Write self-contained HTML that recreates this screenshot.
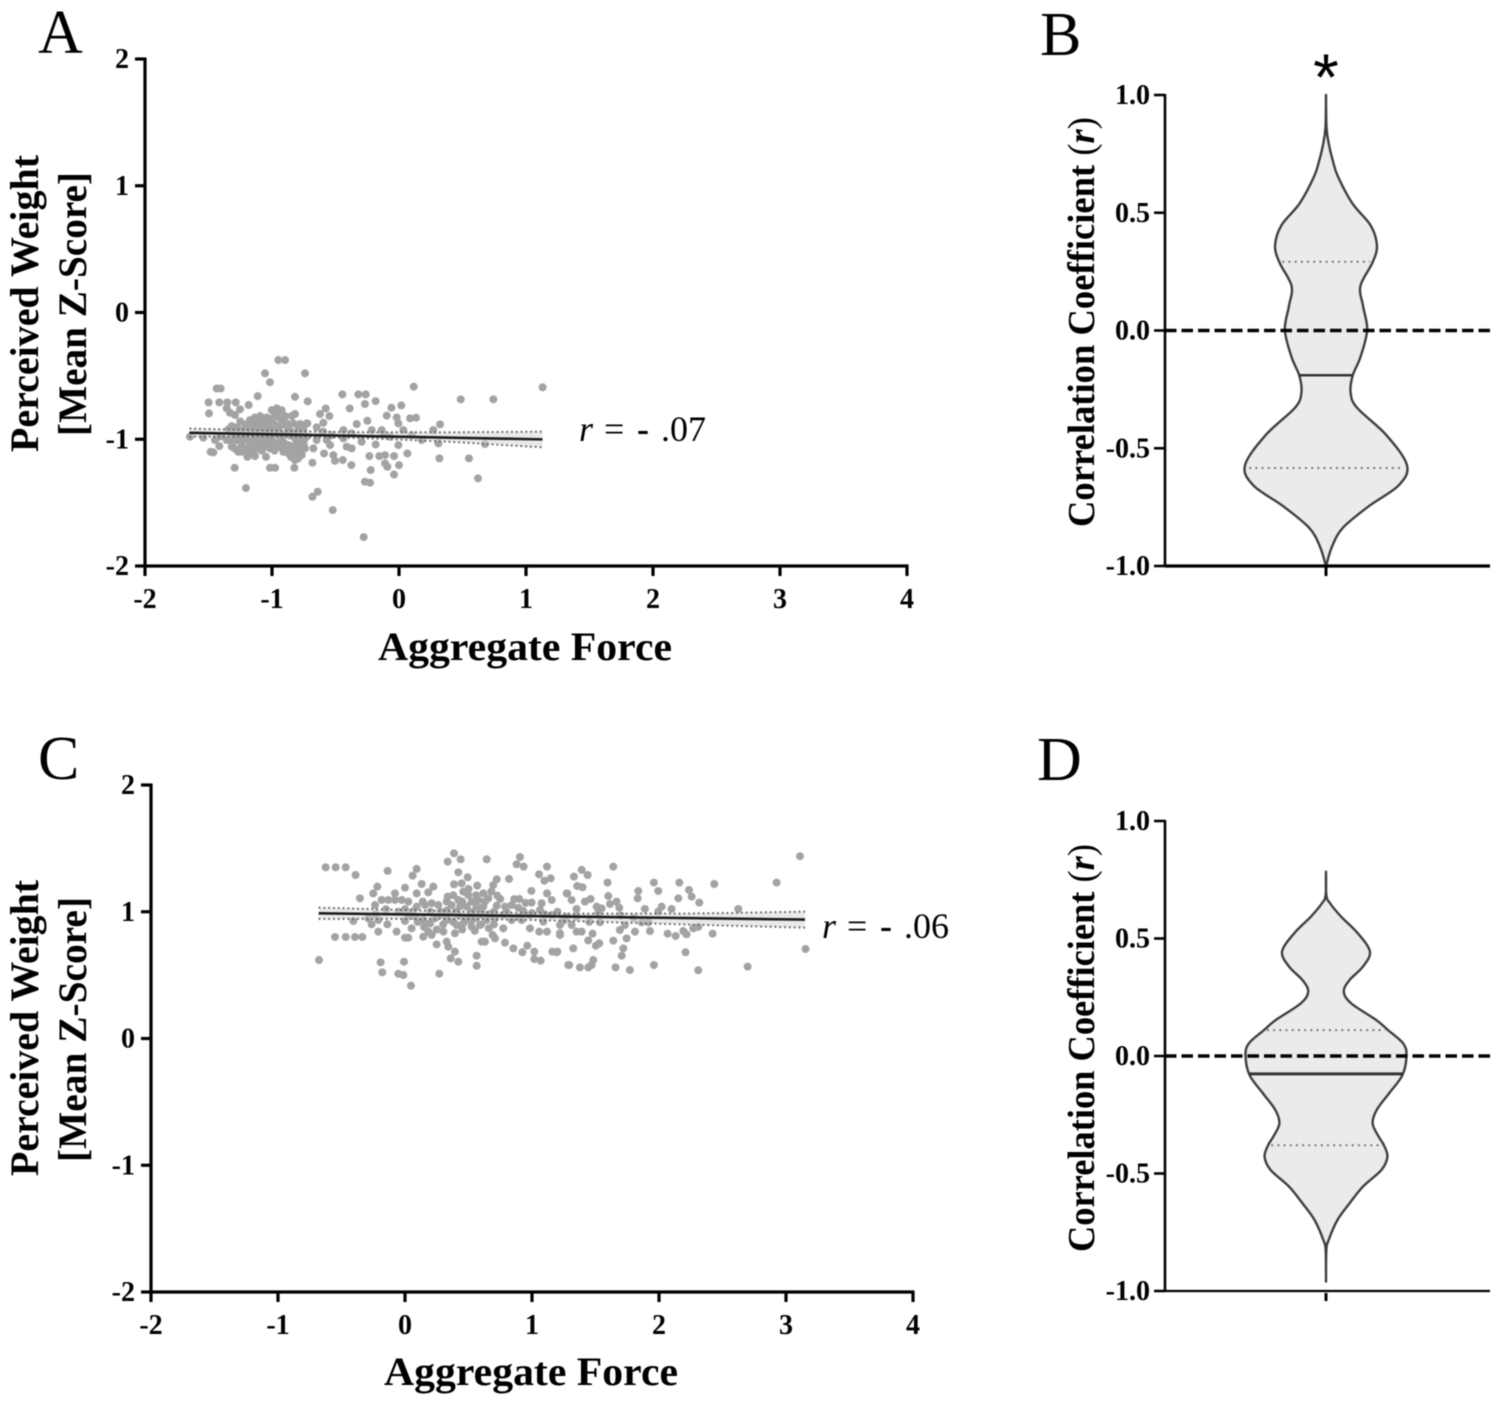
<!DOCTYPE html>
<html lang="en">
<head>
<meta charset="utf-8">
<title>Perceived weight and aggregate force correlations</title>
<style>
html,body{margin:0;padding:0;background:#fff;}
svg{display:block;filter:blur(.5px);}
text{font-family:"Liberation Serif",serif;fill:#000;}
.title{font-weight:bold;font-size:40px;}
.vtitle{font-weight:bold;font-size:38px;}
.tick{font-weight:bold;font-size:28px;}
.letter{font-size:62px;}
.rval{font-size:36px;}
</style>
</head>
<body>
<svg id="figure" width="1498" height="1406" viewBox="0 0 1498 1406" xmlns="http://www.w3.org/2000/svg">
  <g id="panel-a"></g>
  <g id="panel-b"></g>
  <g id="panel-c"></g>
  <g id="panel-d"></g>

  <text class="letter" x="38" y="53">A</text>
  <text class="letter" x="1040" y="55">B</text>
  <text class="letter" x="38" y="779">C</text>
  <text class="letter" x="1037" y="780">D</text>

  <text class="title" transform="translate(38,452) rotate(-90)" textLength="297" lengthAdjust="spacingAndGlyphs">Perceived Weight</text>
  <text class="title" transform="translate(86,436) rotate(-90)" textLength="264" lengthAdjust="spacingAndGlyphs">[Mean Z-Score]</text>
  <text class="title" x="378" y="660" textLength="294" lengthAdjust="spacingAndGlyphs">Aggregate Force</text>
  <text class="rval" y="441"><tspan x="579" font-style="italic">r</tspan><tspan x="604">=</tspan><tspan x="637" font-weight="bold">-</tspan><tspan x="661">.07</tspan></text>

  <text class="vtitle" transform="translate(1094,527) rotate(-90)" textLength="410" lengthAdjust="spacingAndGlyphs">Correlation Coefficient <tspan font-weight="normal">(</tspan><tspan font-style="italic">r</tspan><tspan font-weight="normal">)</tspan></text>
  <text x="1326" y="100" text-anchor="middle" style="font-family:'Liberation Sans',sans-serif;font-size:66px">*</text>

  <text class="title" transform="translate(38,1176) rotate(-90)" textLength="296" lengthAdjust="spacingAndGlyphs">Perceived Weight</text>
  <text class="title" transform="translate(86,1162) rotate(-90)" textLength="265" lengthAdjust="spacingAndGlyphs">[Mean Z-Score]</text>
  <text class="title" x="384" y="1385" textLength="294" lengthAdjust="spacingAndGlyphs">Aggregate Force</text>
  <text class="rval" y="938"><tspan x="822" font-style="italic">r</tspan><tspan x="847">=</tspan><tspan x="880" font-weight="bold">-</tspan><tspan x="904">.06</tspan></text>

  <text class="vtitle" transform="translate(1094,1252) rotate(-90)" textLength="408" lengthAdjust="spacingAndGlyphs">Correlation Coefficient <tspan font-weight="normal">(</tspan><tspan font-style="italic">r</tspan><tspan font-weight="normal">)</tspan></text>
</svg>

<script>
// ---------- Chart data ----------
const scatterTicksX = [-2, -1, 0, 1, 2, 3, 4];
const scatterTicksY = [-2, -1, 0, 1, 2];
const violinTicks = ['-1.0', '-0.5', '0.0', '0.5', '1.0'];

// Panel A: [aggregate force, perceived weight]
const pointsA = [
[-.95,-.375],[-.897,-.375],[-1.055,-.48],[-.74,-.48],[-1.016,-.55],[-1.436,-.6],[-1.404,-.6],[.116,-.585],[1.131,-.59],
[-1.113,-.66],[-.819,-.665],[-.446,-.646],[-.32,-.646],[-.262,-.646],[.486,-.685],[.743,-.685],[-1.499,-.709],[-1.415,-.709],
[-1.352,-.709],[-1.286,-.709],[-1.184,-.73],[-.719,-.701],[-.268,-.722],[-.184,-.699],[.018,-.733],[-.388,-.757],[-.06,-.751],
[-1.496,-.796],[-1.357,-.756],[-1.331,-.791],[-1.291,-.809],[-1.252,-.764],
[-.622,-.801],[-.577,-.757],[-.548,-.817],[-.596,-.87],[-.648,-.906],[-.727,-.875],[-.438,-.928],[-.373,-.954],[-.333,-.88],
[-.249,-.854],[-.215,-.928],[-.136,-.928],[-.097,-.814],[-.018,-.828],[-.005,-.875],[.087,-.835],[.134,-.83],[.034,-.928],
[.323,-.883],[.27,-.928],[.179,-1.006],[.31,-1.033],[-.005,-1.046],[-.184,-1.041],[.066,-1.112],[.318,-1.151],[.551,-1.151],
[.677,-1.038],[.622,-1.309],[-.233,-1.133],[-.155,-1.133],[-.11,-1.125],[-.039,-1.133],[-.11,-1.191],[-.092,-1.217],[0,-1.204],
[-.223,-1.243],[-.039,-1.278],[-.268,-1.335],[-.228,-1.343],[-.375,-1.204],[-.443,-1.164],[-.504,-1.17],[-.517,-1.125],
[-.59,-1.112],[-.682,-1.185],[-.824,-1.225],[-1.016,-1.225],[-.976,-1.225],[-1.294,-1.225],[-1.205,-1.385],[-.64,-1.414],
[-.682,-1.454],[-.522,-1.559],[-.278,-1.772],[-1.483,-1.099],[-1.462,-1.104],[-1.415,-1.054],[-1.541,-.988],[-1.646,-.98],
[-1.317,-1.059],[-1.278,-1.085],[-1.239,-1.099],[-1.194,-1.138],[-1.134,-1.133],[-1.047,-1.138],
[-.438,-.993],[-.412,-1.059],[-.373,-1.072],[-.569,-1.006],[-.674,-1.072],[-.543,-1.046],[-.648,-1.006],[-.596,-.941],
[-.53,-.967],[-.294,-1.02],[-.123,-.967],[.1,-.967],[-.071,-.98],
[-1.317,-.896],[-1.344,-.922],[-1.278,-.906],[-1.212,-.906],[-1.173,-.849],[-1.134,-.828],[-1.094,-.817],[-1.115,-.875],
[-1.068,-.849],[-1.042,-.828],[-1.002,-.77],[-.963,-.756],[-.924,-.77],[-.897,-.817],[-.937,-.835],[-.989,-.828],[-1.029,-.875],
[-1.081,-.906],[-1.147,-.914],[-1.186,-.928],[-.976,-.888],[-.924,-.888],[-.884,-.875],[-.845,-.817],[-.819,-.801],[-.832,-.875],
[-.793,-.906],[-.753,-.922],[-.722,-.875],[-.871,-.922],[-.95,-.928],[-1.016,-.928],[-1.055,-.928],[-1.107,-.933],[-1.252,-.933],[-1.304,-.949],
[-1.357,-1.006],[-1.317,-1.02],[-1.278,-1.006],[-1.239,-1.02],[-1.304,-1.064],[-1.265,-1.099],[-1.212,-1.072],[-1.173,-1.033],
[-1.147,-1.006],[-1.115,-1.046],[-1.068,-1.059],[-1.029,-1.02],[-.989,-1.038],[-.95,-1.059],[-.911,-1.02],[-.871,-1.046],
[-.832,-1.059],[-.793,-1.046],[-.766,-1.006],[-.74,-.993],[-.766,-1.125],[-.793,-1.151],[-.827,-1.099],[-.871,-1.112],
[-.911,-1.099],[-.963,-1.033],[-1.016,-1.072],[-1.094,-1.006],[-1.16,-1.085],[-1.186,-1.125],[-1.409,-.98],[-1.449,-1.006],
[-.727,-.98],[-.819,-1.164],[-.766,-1.085],[-.74,-1.072],[-1.226,-.98],[-1.068,-.98],[-.937,-.98],[-.832,-.98],
[-1.25,-.86],[-1.2,-.88],[-1.15,-.87],[-1.1,-.85],[-1.05,-.88],[-1,-.86],[-.96,-.81],[-.92,-.84],[-.88,-.9],[-.85,-.94],[-.8,-.95],[-.78,-.88],[-.76,-.96],
[-1.3,-.97],[-1.25,-.95],[-1.19,-.95],[-1.14,-.96],[-1.09,-.95],[-1.03,-.96],[-.98,-.95],[-.9,-.96],[-.86,-.97],[-.79,-.98],
[-1.24,-1.05],[-1.2,-1],[-1.13,-1.08],[-1.1,-1.03],[-1.06,-1.01],[-1,-1],[-1.03,-1.06],[-.98,-1.09],[-.93,-1.06],[-.9,-1.09],[-.85,-1.08],[-.81,-1.02],
[-.79,-1.1],[-.85,-1.14],[-.75,-1.04],[-1.08,-1.09],[-1.19,-1.07]
];
const fitXA = [-1.65, 1.13];
const fitYA = [-.949, -1.001];
const ciXA = [-1.65, -.95, -.3, .4, 1.13];
const ciUpperA = [-.915, -.935, -.945, -.945, -.94];
const ciLowerA = [-.98, -.975, -.99, -1.02, -1.064];

// Panel C: [aggregate force, perceived weight]
const pointsC = [
[-.677,.619],[-.625,1.351],[-.546,1.351],[-.467,1.351],[-.389,1.29],[-.137,1.322],[.092,1.338],[.06,1.285],[.336,1.395],[.386,1.461],
[.438,1.414],[.643,1.414],[.905,1.432],[.879,1.374],[.934,1.356],[1.118,1.356],[1.055,1.295],[1.147,1.264],[1.097,1.245],[.42,1.311],
[.493,1.272],[.819,1.259],[.722,1.256],[.695,1.211],[.386,1.217],[.446,1.224],[.569,1.206],[.131,1.219],[.092,1.145],[.223,1.198],
[.183,1.153],[0,1.19],[-.218,1.198],[-.25,1.145],[-.355,1.106],[-.079,1.145],[.995,1.164],[.9,1.101],[1.118,1.145],[1.155,1.093],
[.997,1.072],[1.076,1.067],[1.273,1.145],[.727,1.127],[.336,1.119],
[-.407,.927],[-.551,.801],[-.467,.801],[-.394,.801],[-.336,.801],[-.21,.843],[-.066,.843],[.052,.869],[0,.795],[.026,.795],[.144,.803],
[-.192,.601],[-.179,.522],[-.008,.606],[-.053,.511],[-.013,.501],[.047,.417],[.27,.511],[.249,.743],[.184,.843],[.21,.817],[.302,.843],
[.328,.764],[.341,.724],[.393,.685],[.36,.632],[.42,.606],[.564,.653],[.564,.574],[.603,.764],[.63,.764],[.69,.817],[.708,.79],[.787,.756],
[.853,.711],[.924,.68],[.963,.732],[1.018,.685],[1.018,.627],[1.068,.614],[1.16,.685],[1.194,.68],[1.057,.843],[1.118,.843],[1.22,.83],
[1.286,.58],[.774,.869],[.984,.869],[.393,.83],
[3.11,1.438],[2.926,1.23],[1.64,1.356],[1.391,1.33],[1.438,1.29],[1.33,1.277],[1.356,1.203],[1.398,1.193],[1.595,1.23],[1.96,1.23],
[2.16,1.23],[2.435,1.219],[1.994,1.164],[1.837,1.164],[1.832,1.106],[2.236,1.172],[2.257,1.119],[2.152,1.106],[2.317,1.072],[1.601,1.124],
[1.278,1.145],[1.312,1.093],[1.417,1.08],[1.461,1.101],[1.666,1.08],[1.614,1.061],[1.687,1.032],[1.351,1.022],[1.509,1.04],[1.548,1.027],
[1.522,.988],[1.889,1.022],[2.021,1.04],[2.099,1.022],[1.994,1.001],[2.624,1.022],[1.535,.917],[1.312,.895],[1.351,.843],[1.391,.843],
[1.732,.895],[1.692,.856],[1.477,.827],[1.443,.774],[1.53,.751],[1.503,.732],[1.64,.772],[1.745,.79],[1.811,.843],[1.929,.848],[2.068,.827],
[2.131,.809],[2.191,.848],[2.217,.822],[2.27,.869],[2.309,.88],[2.422,.827],[1.863,.917],[1.916,.917],[1.719,.711],[1.706,.653],[1.325,.711],
[1.22,.817],[1.482,.619],[1.469,.58],[1.293,.58],[1.377,.561],[1.443,.561],[1.658,.561],[1.771,.54],[1.96,.58],[2.209,.68],[2.309,.538],
[2.698,.567],[3.154,.706],[1.2,.685],
[-.236,1.053],[-.184,1.093],[-.131,1.093],[-.079,1.093],[-.026,1.093],[.026,1.08],[.092,1.04],[.157,1.053],[.21,1.067],[.262,1.053],[.328,1.08],
[.367,1.053],[.42,1.093],[.459,1.159],[.498,1.132],[.525,1.08],[.577,1.093],[.617,1.145],[.656,1.106],[.433,1.04],[.486,1.04],[.564,1.04],
[.617,1.04],[.722,1.048],[.787,1.04],[.84,1.053],[.892,1.032],[.932,1.006],[1.063,1.014],[1.155,.974],
[-.289,.948],[-.263,.901],[-.21,.935],[-.139,.901],[0,.927],[.079,.961],[.144,.935],[.197,.908],[.236,.948],[.328,.935],[.407,.895],[.459,.908],
[.525,.882],[.59,.895],[.643,.935],[.708,.948],[.84,.935],[.919,.935],[1.089,.922],[1.22,.895],[1.273,.961],
[.42,.974],[.512,.974],[.59,.974],[.275,.974],[.774,.974],[.984,.974],
[0,1.02],[.06,1],[.14,1.08],[.2,1],[.28,1],[.33,1.01],[.38,1.13],[.4,1],[.45,1.08],[.5,1.18],[.53,1],[.56,1.13],[.6,1],[.63,1.08],[.66,.98],[.7,1],
[.68,1.16],[.75,1.1],[.8,1],[.47,.94],[.52,.92],[.56,.95],[.6,.9],[.38,.92],[.3,.9],[.25,.86],[.15,.88],[.1,.92],[.03,.97],[-.05,1],[-.15,1.02],[-.23,.98],
[.7,.9],[.66,.87],[.45,.86],[.55,.85],[.34,.98],[.9,.96],[1,.99],[1.2,1],[1.1,.98],[1.35,.96],[1.45,.92],[1.7,.97],[1.8,.95],[1.25,.93],[.86,1.1],[.95,1.07]
];
const fitXC = [-.68, 3.15];
const fitYC = [.988, .938];
const ciXC = [-.68, .5, 1.2, 2.2, 3.15];
const ciUpperC = [1.033, 1.0, .985, .985, 1.001];
const ciLowerC = [.943, .945, .93, .9, .874];

// Panel B violin: correlation level and relative density
const levelsB = [1,.864,.792,.72,.655,.54,.447,.361,.289,.189,.103,.002,-.113,-.192,-.264,-.328,-.443,-.572,-.658,-.745,-.838,-.917,-.996,-1];
const densityB = [0,.006,.035,.085,.146,.325,.55,.629,.575,.425,.458,.508,.425,.329,.304,.383,.742,1,.896,.533,.208,.075,.004,0];
const medianB = -.19;
const q1B = -.584;
const q3B = .292;

// Panel D violin
const levelsD = [.784,.685,.65,.593,.522,.444,.38,.323,.274,.224,.153,.11,.054,.003,-.081,-.159,-.23,-.287,-.343,-.378,-.428,-.485,-.556,-.627,-.698,-.783,-.827,-.96];
const densityD = [0,.004,.05,.188,.396,.546,.458,.292,.221,.313,.625,.771,.958,1,.95,.783,.629,.579,.654,.717,.763,.688,.458,.292,.142,.033,.004,0];
const medianD = -.076;
const q1D = -.38;
const q3D = .11;

// ---------- Helpers ----------
const NS = 'http://www.w3.org/2000/svg';
function mk(parent, tag, attrs, txt) {
  const el = document.createElementNS(NS, tag);
  for (const k in attrs) el.setAttribute(k, attrs[k]);
  if (txt !== undefined) el.textContent = txt;
  parent.appendChild(el);
  return el;
}
function linearScale(d0, d1, r0, r1) {
  return function (v) { return r0 + (v - d0) * (r1 - r0) / (d1 - d0); };
}
function interp(xs, ys, v) {
  const dir = xs[xs.length - 1] > xs[0] ? 1 : -1;
  for (let i = 0; i < xs.length - 1; i++) {
    if ((v - xs[i]) * dir >= 0 && (v - xs[i + 1]) * dir <= 0) {
      return ys[i] + (ys[i + 1] - ys[i]) * (v - xs[i]) / (xs[i + 1] - xs[i]);
    }
  }
  return ys[ys.length - 1];
}
function smoothPath(pts, start) {
  let d = start ? 'M' + pts[0][0] + ' ' + pts[0][1] : 'L' + pts[0][0] + ' ' + pts[0][1];
  for (let i = 0; i < pts.length - 1; i++) {
    const p0 = pts[Math.max(0, i - 1)], p1 = pts[i], p2 = pts[i + 1], p3 = pts[Math.min(pts.length - 1, i + 2)];
    const c1x = p1[0] + (p2[0] - p0[0]) / 6, c1y = p1[1] + (p2[1] - p0[1]) / 6;
    const c2x = p2[0] - (p3[0] - p1[0]) / 6, c2y = p2[1] - (p3[1] - p1[1]) / 6;
    d += 'C' + c1x + ' ' + c1y + ' ' + c2x + ' ' + c2y + ' ' + p2[0] + ' ' + p2[1];
  }
  return d;
}

// ---------- Scatter panels ----------
function drawScatter(g, box, points, fitX, fitY, ciX, ciUpper, ciLower) {
  const x = linearScale(-2, 4, box.left, box.right);
  const y = linearScale(-2, 2, box.bottom, box.top);

  const pointLayer = mk(g, 'g', {});
  
  
  points.forEach(function (p) {
    const c = mk(pointLayer, 'circle', { cx: x(p[0]), cy: y(p[1]), r: 4, fill: '#a3a3a3' });
    
    
  });

  const upperPts = ciX.map(function (v, i) { return x(v) + ',' + y(ciUpper[i]); });
  const lowerPts = ciX.map(function (v, i) { return x(v) + ',' + y(ciLower[i]); });
  const band = mk(g, 'polygon', { points: upperPts.concat(lowerPts.slice().reverse()).join(' '), fill: '#d4d4d4', 'fill-opacity': .5 });
  
  
  [upperPts, lowerPts].forEach(function (pts) {
    const l = mk(g, 'polyline', { points: pts.join(' '), fill: 'none', stroke: '#666', 'stroke-width': 2, 'stroke-dasharray': '1.8 3' });
    
    
  });
  const fit = mk(g, 'line', { x1: x(fitX[0]), y1: y(fitY[0]), x2: x(fitX[1]), y2: y(fitY[1]), stroke: '#1c1c1c', 'stroke-width': 2.6 });
  
  

  const yAxis = mk(g, 'line', { x1: box.left, y1: box.top - 1.5, x2: box.left, y2: box.bottom + 1.5, stroke: '#000', 'stroke-width': 3.2 });
  
  
  const xAxis = mk(g, 'line', { x1: box.left - 1.5, y1: box.bottom, x2: box.right + 1.5, y2: box.bottom, stroke: '#000', 'stroke-width': 3.2 });
  
  

  scatterTicksY.forEach(function (v) {
    const t = mk(g, 'line', { x1: box.left - 10, y1: y(v), x2: box.left, y2: y(v), stroke: '#000', 'stroke-width': 3.2 });
    
    
    const l = mk(g, 'text', { class: 'tick', x: box.left - 16, y: y(v) + 9, 'text-anchor': 'end' }, String(v));
    
    
  });
  scatterTicksX.forEach(function (v) {
    const t = mk(g, 'line', { x1: x(v), y1: box.bottom, x2: x(v), y2: box.bottom + 10, stroke: '#000', 'stroke-width': 3.2 });
    
    
    const l = mk(g, 'text', { class: 'tick', x: x(v), y: box.bottom + 42, 'text-anchor': 'middle' }, String(v));
    
    
  });
}

// ---------- Violin panels ----------
function drawViolin(g, box, levels, density, median, q1, q3, axisWidth, tickGap, medianWidth) {
  const y = linearScale(-1, 1, box.bottom, box.top);
  const cx = box.center, w = box.halfWidth;
  const hw = function (v) { return interp(levels, density, v) * w; };
  const right = levels.map(function (r, i) { return [cx + density[i] * w, y(r)]; });
  const left = levels.map(function (r, i) { return [cx - density[i] * w, y(r)]; }).reverse();
  const path = smoothPath(right, true) + smoothPath(left, false) + 'Z';
  const v = mk(g, 'path', { d: path, fill: '#ebebeb', stroke: '#3f3f3f', 'stroke-width': 2.4, 'stroke-linejoin': 'round' });
  
  

  [q1, q3].forEach(function (q) {
    const l = mk(g, 'line', { x1: cx - hw(q) + 3, y1: y(q), x2: cx + hw(q) - 3, y2: y(q), stroke: '#777', 'stroke-width': 2, 'stroke-dasharray': '2 4.2' });
    
    
  });
  const m = mk(g, 'line', { x1: cx - hw(median), y1: y(median), x2: cx + hw(median), y2: y(median), stroke: '#333', 'stroke-width': medianWidth });
  
  

  const dash = mk(g, 'line', { x1: box.left, y1: y(0), x2: box.right, y2: y(0), stroke: '#000', 'stroke-width': 3.4, 'stroke-dasharray': '11.5 5' });
  
  

  const yAxis = mk(g, 'line', { x1: box.left, y1: box.top - 1, x2: box.left, y2: box.bottom + 1, stroke: '#000', 'stroke-width': 2.6 });
  
  
  const xAxis = mk(g, 'line', { x1: box.left, y1: box.bottom, x2: box.right, y2: box.bottom, stroke: '#000', 'stroke-width': axisWidth });
  
  
  const cTick = mk(g, 'line', { x1: cx, y1: box.bottom + tickGap, x2: cx, y2: box.bottom + 10, stroke: '#000', 'stroke-width': 3 });
  
  

  violinTicks.forEach(function (label) {
    const val = parseFloat(label);
    const t = mk(g, 'line', { x1: box.left - 11, y1: y(val), x2: box.left, y2: y(val), stroke: '#000', 'stroke-width': 2.6 });
    
    
    const l = mk(g, 'text', { class: 'tick', x: box.left - 15, y: y(val) + 9, 'text-anchor': 'end' }, label);
    
    
  });
}

drawScatter(document.getElementById('panel-a'), { left: 145, right: 907, top: 59, bottom: 566 }, pointsA, fitXA, fitYA, ciXA, ciUpperA, ciLowerA);
drawScatter(document.getElementById('panel-c'), { left: 151, right: 913, top: 785, bottom: 1292 }, pointsC, fitXC, fitYC, ciXC, ciUpperC, ciLowerC);
drawViolin(document.getElementById('panel-b'), { left: 1165, right: 1490, top: 95, bottom: 566, center: 1326, halfWidth: 81 }, levelsB, densityB, medianB, q1B, q3B, 3.2, 0, 2.4);
drawViolin(document.getElementById('panel-d'), { left: 1165, right: 1490, top: 821, bottom: 1291, center: 1326, halfWidth: 80.5 }, levelsD, densityD, medianD, q1D, q3D, 2.2, 2, 3);
</script>
</body>
</html>
